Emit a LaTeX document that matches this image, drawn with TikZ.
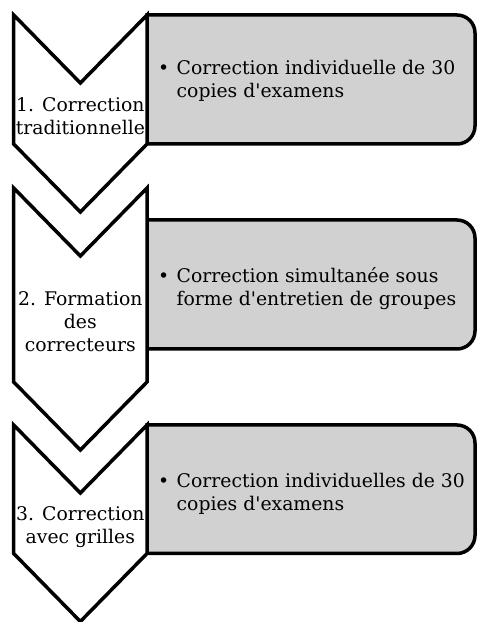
\documentclass[tikz,border=0pt]{standalone}
\usepackage{fontspec}
\setmainfont{DejaVu Serif}
\usetikzlibrary{positioning}

\begin{document}
\begin{tikzpicture}[
    x=1pt, y=1pt,
    chevron/.style={draw=black, line width=3.5pt, fill=white, line join=miter},
    itembox/.style={draw=black, line width=3.5pt, fill=black!18},
    steplabel/.style={align=center, inner sep=0pt, font=\fontsize{18.8}{23}\selectfont, text=black},
    itemtext/.style={align=left, anchor=north west, inner sep=0pt, font=\fontsize{18.8}{23}\selectfont, text=black}
]
\useasboundingbox (0,0) rectangle (477,622);

\draw[itembox] (147,607) -- (457,607) arc[start angle=90, end angle=0, radius=18] -- (475,496) arc[start angle=0, end angle=-90, radius=18] -- (147,478) -- cycle;
\draw[itembox] (147,402) -- (457,402) arc[start angle=90, end angle=0, radius=18] -- (475,291) arc[start angle=0, end angle=-90, radius=18] -- (147,273) -- cycle;
\draw[itembox] (147,197) -- (457,197) arc[start angle=90, end angle=0, radius=18] -- (475,86.5) arc[start angle=0, end angle=-90, radius=18] -- (147,68.5) -- cycle;

\draw[chevron] (13.7,607) -- (80.35,539) -- (147,607) -- (147,478) -- (80.35,410) -- (13.7,478) -- cycle;
\draw[chevron] (13.7,434) -- (80.35,366) -- (147,434) -- (147,240) -- (80.35,172) -- (13.7,240) -- cycle;
\draw[chevron] (13.7,197) -- (80.35,129) -- (147,197) -- (147,68.5) -- (80.35,0.5) -- (13.7,68.5) -- cycle;

\node[steplabel] (lbl1) at (80.35,505.5) {1. Correction\\traditionnelle};
\node[steplabel] (lbl2) at (80.35,300.5) {2. Formation\\des\\correcteurs};
\node[steplabel] (lbl3) at (80.35,95) {3. Correction\\avec grilles};

\node[itemtext] (item1) at (158,561.5) {\makebox[18.5pt][l]{\textbullet}Correction individuelle de 30\\\hspace*{18.5pt}copies d\textquotesingle examens};
\node[itemtext] (item2) at (158,354.5) {\makebox[18.5pt][l]{\textbullet}Correction simultanée sous\\\hspace*{18.5pt}forme d\textquotesingle entretien de groupes};
\node[itemtext] (item3) at (158,148.5) {\makebox[18.5pt][l]{\textbullet}Correction individuelles de 30\\\hspace*{18.5pt}copies d\textquotesingle examens};

\end{tikzpicture}
\end{document}
